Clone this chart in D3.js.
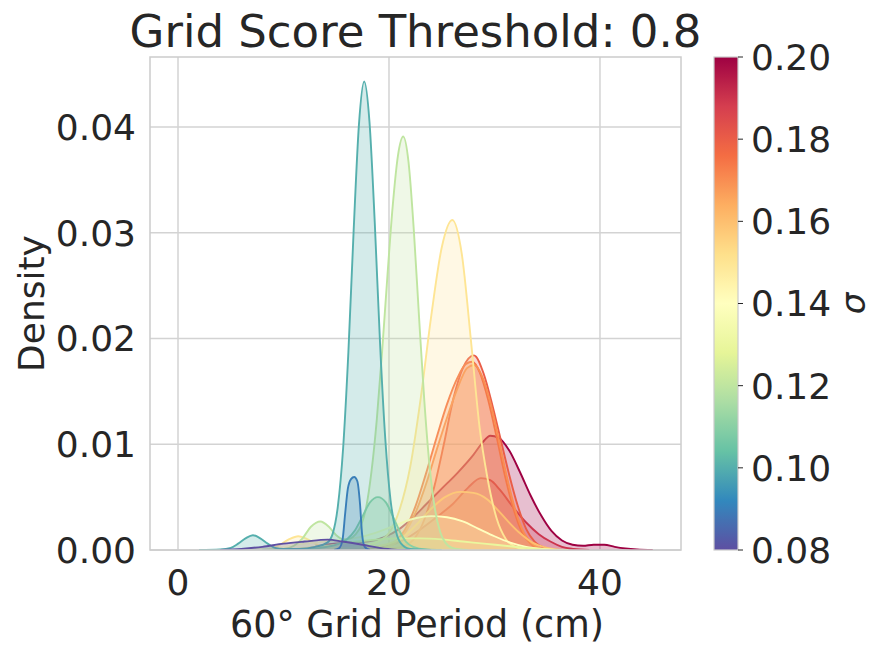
<!DOCTYPE html>
<html>
<head>
<meta charset="utf-8">
<script src="https://cdn.jsdelivr.net/npm/d3@7"></script>
<style>
  body { margin: 0; background: #ffffff; }
  svg text { font-family: "DejaVu Sans", sans-serif; fill: #262626; }
</style>
</head>
<body>
<svg id="chart" width="875" height="645"></svg>
<script>
// ---------- DATA ----------
const titleText = "Grid Score Threshold: 0.8";
const xLabel = "60\u00B0 Grid Period (cm)";
const yLabel = "Density";
const cbarLabel = "\u03C3";
const xTicks = [0, 20, 40];
const yTicks = [0.00, 0.01, 0.02, 0.03, 0.04];
const cbarTicks = [0.08, 0.10, 0.12, 0.14, 0.16, 0.18, 0.20];
// Spectral colormap stops (reversed use: low sigma -> purple)
const spectralStops = ["#9e0142","#d53e4f","#f46d43","#fdae61","#fee08b","#ffffbf","#e6f598","#abdda4","#66c2a5","#3288bd","#5e4fa2"];

// density curves, [period (cm), density]
const kde_080 = [[4,0],[6,0.0001],[8,0.0003],[10,0.0006],[12,0.0008],[14.2,0.00098],[15.6,0.0008],[17.5,0.0005],[19.1,0.0002],[20.5,0.00004],[22,0]];
const kde_090 = [[14.8,0],[15.3,0.0002],[15.6,0.0010],[15.85,0.0035],[16.1,0.0058],[16.4,0.0067],[16.7,0.0069],[17.0,0.0065],[17.25,0.0044],[17.45,0.0015],[17.7,0.0003],[18.2,0]];
const kde_100 = [[2,0],[4,0.00005],[5,0.0002],[5.7,0.0006],[6.4,0.0011],[7.1,0.0014],[7.8,0.0011],[8.5,0.0006],[9.2,0.0002],[10,0.0001],[11.5,0.0001],[13,0.0003],[14.15,0.0007],[14.65,0.0015],[15.15,0.0041],[15.65,0.0096],[16.15,0.0187],[16.65,0.0302],[17.15,0.0402],[17.65,0.0443],[18.15,0.0405],[18.65,0.0310],[19.15,0.0196],[19.65,0.0105],[20.15,0.0047],[20.65,0.0018],[21.15,0.0006],[22,0.0001],[24,0]];
const kde_110 = [[12,0],[13.5,0.0002],[15,0.0005],[16,0.0010],[16.8,0.0019],[17.5,0.0032],[18.2,0.0045],[18.95,0.0050],[19.7,0.0045],[20.4,0.0031],[21,0.0018],[21.6,0.0008],[22.3,0.0003],[23.5,0.00005],[25,0]];
const kde_120 = [[8,0],[10,0.0001],[11,0.0004],[11.8,0.0011],[12.6,0.0022],[13.5,0.0027],[14.3,0.0022],[15.0,0.0014],[15.7,0.0010],[16.35,0.0011],[16.85,0.0015],[17.35,0.0023],[17.85,0.0041],[18.35,0.0075],[18.85,0.0124],[19.35,0.0188],[19.85,0.0259],[20.35,0.0325],[20.85,0.0373],[21.35,0.0391],[21.85,0.0367],[22.35,0.0303],[22.85,0.0220],[23.35,0.0141],[23.85,0.0079],[24.35,0.0039],[24.85,0.0017],[25.35,0.0007],[26,0.0002],[27.5,0]];
const kde_130 = [[8,0],[11,0.0001],[13,0.0003],[15,0.0005],[17,0.0008],[19,0.0010],[21,0.0011],[23,0.0011],[25,0.0010],[27,0.0008],[29,0.0006],[31,0.0004],[33,0.0002],[35,0.00005],[37,0]];
const kde_140 = [[6,0],[8,0.0001],[10,0.0003],[12,0.0006],[14,0.0008],[16,0.0010],[18,0.0014],[19.5,0.0019],[21,0.0025],[22.5,0.0030],[24,0.0032],[25.5,0.0031],[27,0.0027],[28.5,0.0020],[30,0.0013],[31.5,0.0007],[33,0.0003],[34.5,0.0001],[36,0]];
const kde_150 = [[7,0],[8.5,0.0001],[9.5,0.0004],[10.5,0.0010],[11.4,0.0013],[12.3,0.0010],[13.2,0.0005],[14,0.0003],[15,0.0002],[16,0.0002],[17,0.0003],[18,0.0005],[19,0.0008],[20,0.0016],[21,0.0038],[22,0.0078],[23,0.0143],[24,0.0221],[25,0.0286],[26,0.0312],[26.9,0.0280],[27.8,0.0195],[28.6,0.0115],[29.3,0.0070],[30.2,0.0030],[31.1,0.0010],[32,0.0003],[33,0.00005],[34,0]];
const kde_160 = [[15,0],[17,0.0001],[18.5,0.0003],[20,0.0006],[21.3,0.0012],[22.5,0.0023],[23.9,0.0038],[25.3,0.0050],[26.8,0.0055],[28,0.0054],[29.3,0.0048],[30.3,0.0038],[31.2,0.0028],[32.4,0.0016],[33.6,0.0007],[35,0.0002],[36.5,0]];
const kde_170 = [[18,0],[19.5,0.0002],[20.5,0.0006],[21.5,0.0016],[22.5,0.0035],[23.5,0.0062],[24.5,0.0094],[25.5,0.0125],[26.5,0.0153],[27.4,0.0172],[28.1,0.0175],[28.8,0.0165],[29.6,0.0140],[30.4,0.0105],[31.2,0.0068],[32,0.0037],[32.8,0.0016],[33.6,0.0006],[34.5,0.0001],[36,0]];
const kde_175 = [[18,0],[19.5,0.0002],[20.5,0.0007],[21.5,0.0019],[22.5,0.0041],[23.5,0.0072],[24.5,0.0106],[25.5,0.0138],[26.5,0.0163],[27.3,0.0176],[27.9,0.0178],[28.6,0.0168],[29.4,0.0142],[30.2,0.0107],[31,0.0070],[31.8,0.0039],[32.6,0.0017],[33.4,0.0006],[34.3,0.0001],[36,0]];
const kde_180 = [[19,0],[20,0.0001],[21.5,0.0004],[22.5,0.0012],[23.4,0.0030],[24.3,0.0060],[25.2,0.0100],[26.1,0.0143],[27,0.0172],[28.05,0.0184],[29,0.0166],[29.8,0.0137],[30.6,0.0104],[31.4,0.0071],[32.2,0.0042],[33,0.0020],[33.8,0.0008],[34.8,0.0002],[36,0]];
const kde_190 = [[16,0],[18,0.0001],[20,0.0004],[21.5,0.0010],[22.9,0.0019],[24.5,0.0031],[26.1,0.0044],[27.5,0.0059],[28.7,0.0068],[29.6,0.0066],[30.5,0.0057],[31.8,0.0040],[33.0,0.0026],[34.2,0.0015],[35.3,0.0008],[36.4,0.0003],[37.5,0.0001],[39,0]];
const kde_200 = [[10,0],[12,0.0001],[14,0.0005],[16,0.0007],[18,0.0008],[19.5,0.0012],[21,0.0020],[22.3,0.0031],[23.5,0.0043],[25,0.0058],[26.5,0.0073],[28,0.0090],[28.9,0.0102],[29.6,0.0108],[30.4,0.0106],[31.4,0.0094],[32.4,0.0074],[33.4,0.0052],[34.4,0.0033],[35.4,0.0018],[36.4,0.0009],[37.4,0.0005],[38.4,0.0004],[39.4,0.0005],[40.4,0.0005],[41.4,0.0003],[42.4,0.00015],[43.5,0.00005],[45,0]];

const sigmas = [0.08, 0.09, 0.10, 0.11, 0.12, 0.13, 0.14, 0.15, 0.16, 0.17, 0.175, 0.18, 0.19, 0.20];
const curves = [kde_080, kde_090, kde_100, kde_110, kde_120, kde_130, kde_140, kde_150, kde_160, kde_170, kde_175, kde_180, kde_190, kde_200];

// ---------- LAYOUT ----------
const svg = d3.select("#chart");
const plot = { left: 150, right: 681, top: 57, bottom: 550 };
const cbar = { left: 714, right: 738, top: 57, bottom: 550 };
const gridColor = "#d3d3d3";

const x = d3.scaleLinear().domain([-2.654, 47.68]).range([plot.left, plot.right]);
const y = d3.scaleLinear().domain([0, 0.04662]).range([plot.bottom, plot.top]);

const spectral = d3.scaleLinear()
  .domain(d3.range(spectralStops.length).map(i => i / (spectralStops.length - 1)))
  .range(spectralStops)
  .interpolate(d3.interpolateRgb);
const sigScale = d3.scaleLinear().domain([0.08, 0.20]).range([1, 0]);
const colorOf = s => spectral(sigScale(s));

// grid
const grid = svg.append("g");
grid.selectAll("line.gx").data(xTicks).join("line")
  .attr("x1", d => x(d)).attr("x2", d => x(d))
  .attr("y1", plot.top).attr("y2", plot.bottom)
  .attr("stroke", gridColor).attr("stroke-width", 1.5);
grid.selectAll("line.gy").data(yTicks).join("line")
  .attr("y1", d => y(d)).attr("y2", d => y(d))
  .attr("x1", plot.left).attr("x2", plot.right)
  .attr("stroke", gridColor).attr("stroke-width", 1.5);

// curves: highest sigma drawn first (lowest sigma on top)
svg.append("clipPath").attr("id", "clipPlot").append("rect")
  .attr("x", plot.left).attr("y", plot.top)
  .attr("width", plot.right - plot.left).attr("height", plot.bottom - plot.top);

const area = d3.area().x(d => x(d[0])).y0(y(0)).y1(d => y(d[1])).curve(d3.curveMonotoneX);
const line = d3.line().x(d => x(d[0])).y(d => y(d[1])).curve(d3.curveMonotoneX);

const layers = svg.append("g").attr("clip-path", "url(#clipPlot)");
const order = d3.range(curves.length).reverse();
order.forEach(i => {
  const c = colorOf(sigmas[i]);
  layers.append("path").datum(curves[i]).attr("d", area)
    .attr("fill", c).attr("fill-opacity", 0.25).attr("stroke", "none");
  layers.append("path").datum(curves[i]).attr("d", line)
    .attr("fill", "none").attr("stroke", c).attr("stroke-width", 1.9)
    .attr("stroke-linejoin", "round");
});

// frame
svg.append("rect").attr("x", plot.left).attr("y", plot.top)
  .attr("width", plot.right - plot.left).attr("height", plot.bottom - plot.top)
  .attr("fill", "none").attr("stroke", "#cccccc").attr("stroke-width", 1.5);

// tick labels
svg.append("g").selectAll("text").data(xTicks).join("text")
  .attr("x", d => x(d)).attr("y", 595)
  .attr("text-anchor", "middle").attr("font-size", 36)
  .text(d => d3.format("d")(d));
svg.append("g").selectAll("text").data(yTicks).join("text")
  .attr("x", 136).attr("y", d => y(d)).attr("dy", "0.36em")
  .attr("text-anchor", "end").attr("font-size", 36)
  .text(d => d3.format(".2f")(d));

// axis labels and title
svg.append("text").attr("x", x(20) + 28).attr("y", 637)
  .attr("text-anchor", "middle").attr("font-size", 36.5)
  .text(xLabel);
svg.append("text").attr("transform", `translate(44,${(plot.top + plot.bottom) / 2}) rotate(-90)`)
  .attr("text-anchor", "middle").attr("font-size", 36)
  .text(yLabel);
svg.append("text").attr("x", (plot.left + plot.right) / 2).attr("y", 47)
  .attr("text-anchor", "middle").attr("font-size", 45)
  .text(titleText);

// colorbar
const cy = d3.scaleLinear().domain([0.08, 0.20]).range([cbar.bottom, cbar.top]);
const grad = svg.append("defs").append("linearGradient").attr("id", "cbarGrad")
  .attr("x1", 0).attr("y1", 1).attr("x2", 0).attr("y2", 0);
grad.selectAll("stop").data(d3.range(0, 1.0001, 0.02)).join("stop")
  .attr("offset", d => d)
  .attr("stop-color", d => colorOf(0.08 + d * 0.12));
svg.append("rect").attr("x", cbar.left).attr("y", cbar.top)
  .attr("width", cbar.right - cbar.left).attr("height", cbar.bottom - cbar.top)
  .attr("fill", "url(#cbarGrad)").attr("stroke", "#cccccc").attr("stroke-width", 1.2);
svg.append("g").selectAll("line").data(cbarTicks).join("line")
  .attr("x1", cbar.right).attr("x2", cbar.right + 5)
  .attr("y1", d => cy(d)).attr("y2", d => cy(d))
  .attr("stroke", "#262626").attr("stroke-width", 1);
svg.append("g").selectAll("text").data(cbarTicks).join("text")
  .attr("x", 751).attr("y", d => cy(d)).attr("dy", "0.36em")
  .attr("font-size", 36)
  .text(d => d3.format(".2f")(d));
svg.append("text").attr("transform", `translate(865,${(cbar.top + cbar.bottom) / 2}) rotate(-90)`)
  .attr("text-anchor", "middle").attr("font-size", 34).attr("font-style", "italic")
  .text(cbarLabel);
</script>
</body>
</html>
